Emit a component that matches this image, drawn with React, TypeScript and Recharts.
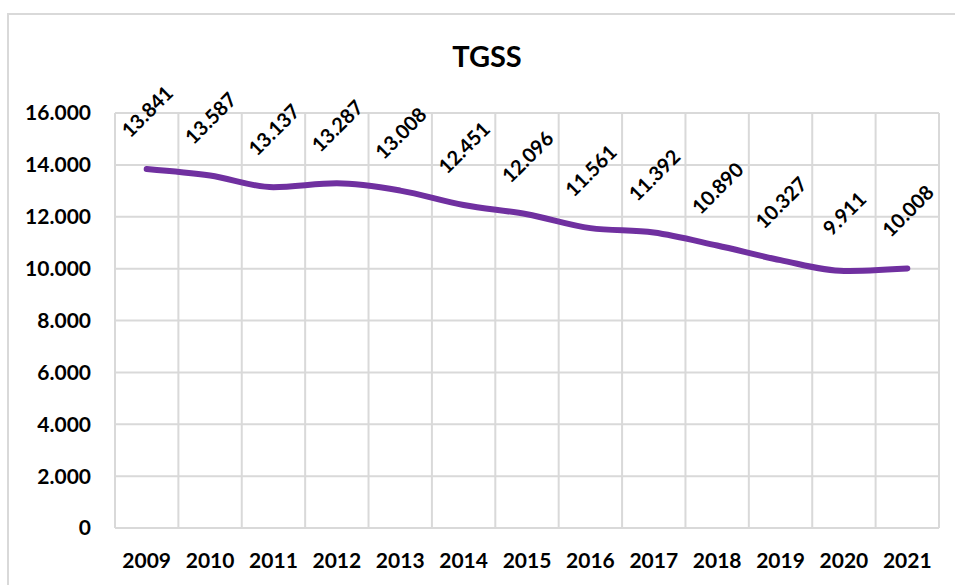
import React from 'react';
import { CartesianGrid, LabelList, Line, LineChart, XAxis, YAxis } from 'recharts';

// TGSS yearly values
const years = ['2009', '2010', '2011', '2012', '2013', '2014', '2015', '2016', '2017', '2018', '2019', '2020', '2021'];
const tgss = [13841, 13587, 13137, 13287, 13008, 12451, 12096, 11561, 11392, 10890, 10327, 9911, 10008];
const yTicks = [0, 2000, 4000, 6000, 8000, 10000, 12000, 14000, 16000];

const data = years.map((year, i) => ({ year, value: tgss[i] }));

const fontFamily = 'Lato, "Open Sans", sans-serif';
const gridColor = '#d9d9d9';

// spanish style thousands: 13.841
const fmt = (v: number) => String(v).replace(/\B(?=(\d{3})+(?!\d))/g, '.');

const RotatedLabel = (props: any) => {
  const { x, y, value } = props;
  const cx = x;
  const cy = y - 58;
  return (
    <text
      x={cx}
      y={cy}
      transform={`rotate(-45, ${cx}, ${cy})`}
      textAnchor="middle"
      dominantBaseline="central"
      fontFamily={fontFamily}
      fontWeight={700}
      fontSize={20}
      fill="#000"
    >
      {fmt(value)}
    </text>
  );
};

const App: React.FC = () => {
  const boundaries = ({ offset }: any) => {
    const step = offset.width / years.length;
    return [...years.map((_, i) => offset.left + i * step), offset.left + offset.width];
  };

  return (
    <div style={{ position: 'absolute', left: 0, top: 0, width: 955, height: 585, background: '#fff', overflow: 'hidden' }}>
      <div
        style={{
          position: 'absolute',
          left: 7,
          top: 13,
          width: 1000,
          height: 700,
          border: `2px solid ${gridColor}`,
          boxSizing: 'border-box'
        }}
      />
      <div
        style={{
          position: 'absolute',
          left: 387,
          top: 38,
          width: 200,
          textAlign: 'center',
          fontFamily,
          fontWeight: 700,
          fontSize: 29,
          color: '#000'
        }}
      >
        TGSS
      </div>
      <div style={{ position: 'absolute', left: 0, top: 0 }}>
        <LineChart width={955} height={585} data={data} margin={{ top: 113, right: 16, left: 0, bottom: 0 }}>
          <CartesianGrid stroke={gridColor} strokeWidth={2} verticalCoordinatesGenerator={boundaries} />
          <XAxis
            dataKey="year"
            scale="band"
            height={57}
            axisLine={false}
            tickLine={false}
            tickMargin={19}
            interval={0}
            tick={{ fontFamily, fontWeight: 700, fontSize: 21, fill: '#000' }}
          />
          <YAxis
            width={115}
            domain={[0, 16000]}
            ticks={yTicks}
            axisLine={false}
            tickLine={false}
            tickMargin={18}
            tickFormatter={fmt}
            tick={{ fontFamily, fontWeight: 700, fontSize: 21, fill: '#000' }}
          />
          <Line
            type="monotone"
            dataKey="value"
            stroke="#7030a0"
            strokeWidth={6}
            strokeLinecap="round"
            dot={false}
            activeDot={false}
            isAnimationActive={false}
          >
            <LabelList dataKey="value" content={RotatedLabel} />
          </Line>
        </LineChart>
      </div>
    </div>
  );
};

export default App;
